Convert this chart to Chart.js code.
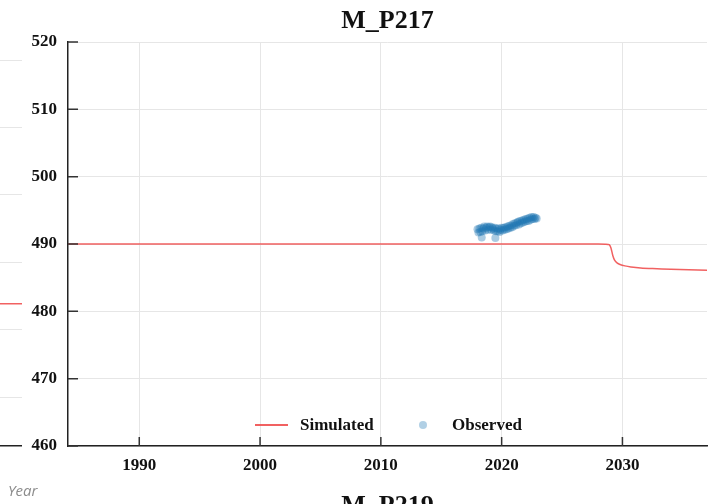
<!DOCTYPE html>
<html>
<head>
<meta charset="utf-8">
<script src="https://cdn.jsdelivr.net/npm/chart.js@4.4.1/dist/chart.umd.min.js"></script>
<style>
    html, body { margin: 0; padding: 0; background: #fff; }
    #wrap { position: relative; width: 720px; height: 504px; overflow: hidden; }
    #chart { position: absolute; left: 0; top: 0; }
    #neighbour { position: absolute; left: -378px; top: 0; }
    .title { position: absolute; left: 68px; width: 639px; text-align: center; font: bold 26px/26px "Liberation Serif", serif; color: #111; white-space: nowrap; }
    .year { position: absolute; left: 8px; top: 483px; font: italic 15px/15px "Open Sans", sans-serif; color: #8c8c8c; }
    .legend-text { position: absolute; top: 416px; font: bold 17px/17px "Liberation Serif", serif; color: #111; }
    .swatch-line { position: absolute; left: 255px; top: 424px; width: 33px; height: 2px; background: rgba(240, 80, 80, 0.9); }
    .swatch-dot { position: absolute; left: 419px; top: 421px; width: 8px; height: 8px; border-radius: 50%; background: rgba(31, 119, 180, 0.35); }
</style>
</head>
<body>
<div id="wrap">
    <canvas id="neighbour" width="400" height="504"></canvas>
    <canvas id="chart" width="720" height="504"></canvas>
    <div class="title" style="top: 7px">M_P217</div>
    <div class="title" style="top: 492px">M_P219</div>
    <div class="year">Year</div>
    <div class="swatch-line"></div>
    <div class="legend-text" style="left: 300px">Simulated</div>
    <div class="swatch-dot"></div>
    <div class="legend-text" style="left: 452px">Observed</div>
</div>
<script>
const xTicks = [1990, 2000, 2010, 2020, 2030]
const yTicks = [460, 470, 480, 490, 500, 510, 520]
const xMin = 1984.1
const xMax = 2037

// simulated head, flat then a drop after 2029
const simYears = [1984.1, 2028.0, 2028.6, 2028.9, 2029.05, 2029.2, 2029.35, 2029.55, 2029.8, 2030.2, 2030.7, 2031.5, 2032.5, 2034.0, 2035.5, 2037.0]
const simValues = [490.0, 490.0, 489.97, 489.9, 489.4, 488.3, 487.6, 487.2, 486.95, 486.75, 486.6, 486.45, 486.35, 486.25, 486.18, 486.12]

// observed heads
const obsYears = [
    2018.0, 2018.08, 2018.16, 2018.24, 2018.32, 2018.35, 2018.4, 2018.48, 2018.56, 2018.64,
    2018.72, 2018.8, 2018.88, 2018.96, 2019.04, 2019.12, 2019.2, 2019.28, 2019.36, 2019.44,
    2019.48, 2019.52, 2019.6, 2019.68, 2019.76, 2019.84, 2019.92, 2020.0, 2020.08, 2020.16,
    2020.24, 2020.32, 2020.4, 2020.48, 2020.56, 2020.64, 2020.72, 2020.8, 2020.88, 2020.96,
    2021.04, 2021.12, 2021.2, 2021.28, 2021.36, 2021.44, 2021.52, 2021.6, 2021.68, 2021.76,
    2021.84, 2021.92, 2022.0, 2022.08, 2022.16, 2022.24, 2022.32, 2022.4, 2022.48, 2022.56,
    2022.64, 2022.72, 2022.8, 2022.9
]
const obsValues = [
    492.2, 491.7, 492.3, 491.8, 492.4, 490.95, 491.9, 492.3, 492.6, 492.0,
    492.4, 492.6, 492.1, 492.5, 492.6, 492.1, 492.5, 492.3, 492.0, 492.4,
    490.9, 491.9, 492.3, 491.9, 492.3, 491.8, 492.1, 492.4, 492.0, 492.4,
    492.1, 492.5, 492.2, 492.6, 492.3, 492.7, 492.4, 492.8, 492.5, 493.0,
    492.7, 493.1, 492.8, 493.2, 493.3, 492.9, 493.4, 493.1, 493.5, 493.2,
    493.6, 493.3, 493.7, 493.4, 493.8, 493.4, 493.9, 493.6, 494.0, 493.7,
    494.0, 493.7, 493.9, 493.8
]

// right edge of the neighbouring panel that shows at the left border
const nbTicks = [430, 440, 450, 460, 470, 480]
const nbMin = 422.77
const nbMax = 482.67
const nbYears = [2030, 2037]
const nbValues = [443.86, 443.86]

const tickFont = { family: '"Liberation Serif", serif', size: 17, weight: 'bold' }

const innerTicks = {
    id: 'innerTicks',
    afterDatasetsDraw(chart) {
        const { ctx, chartArea, scales: { x, y } } = chart
        ctx.save()
        ctx.strokeStyle = '#333'
        ctx.lineWidth = 1.5
        ctx.beginPath()
        x.ticks.forEach(t => {
            const px = x.getPixelForValue(t.value)
            ctx.moveTo(px, chartArea.bottom)
            ctx.lineTo(px, chartArea.bottom - 9)
        })
        y.ticks.forEach(t => {
            const py = y.getPixelForValue(t.value)
            ctx.moveTo(chartArea.left, py)
            ctx.lineTo(chartArea.left + 10, py)
        })
        ctx.stroke()
        ctx.restore()
    }
}

function axes(yMin, yMax, yTickValues) {
    return {
        x: {
            type: 'linear',
            min: xMin,
            max: xMax,
            afterBuildTicks: s => { s.ticks = xTicks.map(v => ({ value: v })) },
            afterFit: s => { s.height = 58 },
            grid: { color: '#e6e6e6', drawTicks: false },
            border: { color: '#222', width: 1.5 },
            ticks: { font: tickFont, color: '#111', padding: 9, callback: v => String(v) }
        },
        y: {
            type: 'linear',
            min: yMin,
            max: yMax,
            afterBuildTicks: s => { s.ticks = yTickValues.map(v => ({ value: v })) },
            afterFit: s => { s.width = 68 },
            grid: { color: '#e6e6e6', drawTicks: false },
            border: { color: '#222', width: 1.5 },
            ticks: { font: tickFont, color: '#111', padding: 11, callback: v => String(v) }
        }
    }
}

const baseOptions = {
    responsive: false,
    animation: false,
    devicePixelRatio: 1,
    plugins: {
        legend: { display: false },
        tooltip: { enabled: false }
    }
}

new Chart(document.getElementById('neighbour').getContext('2d'), {
    type: 'line',
    data: {
        datasets: [{
            data: nbYears.map((yr, i) => ({ x: yr, y: nbValues[i] })),
            borderColor: 'rgba(240, 80, 80, 0.9)',
            borderWidth: 1.5,
            pointRadius: 0
        }]
    },
    options: {
        ...baseOptions,
        layout: { padding: { top: 42, right: 0, left: 0, bottom: 0 } },
        scales: axes(nbMin, nbMax, nbTicks)
    }
})

new Chart(document.getElementById('chart').getContext('2d'), {
    data: {
        datasets: [{
            type: 'scatter',
            label: 'Observed',
            data: obsYears.map((yr, i) => ({ x: yr, y: obsValues[i] })),
            backgroundColor: 'rgba(31, 119, 180, 0.38)',
            borderWidth: 0,
            pointRadius: 4,
            order: 1
        }, {
            type: 'line',
            label: 'Simulated',
            data: simYears.map((yr, i) => ({ x: yr, y: simValues[i] })),
            borderColor: 'rgba(240, 80, 80, 0.9)',
            borderWidth: 1.5,
            pointRadius: 0,
            tension: 0.2,
            order: 2
        }]
    },
    options: {
        ...baseOptions,
        layout: { padding: { top: 42, right: 13, left: 0, bottom: 0 } },
        scales: axes(460, 520, yTicks)
    },
    plugins: [innerTicks]
})
</script>
</body>
</html>
